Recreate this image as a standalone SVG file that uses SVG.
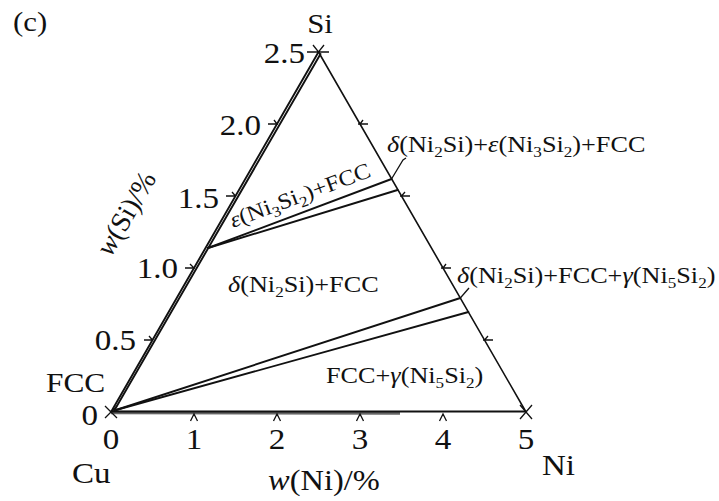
<svg xmlns="http://www.w3.org/2000/svg" width="719" height="501" viewBox="0 0 719 501">
<style>
text{font-family:"Liberation Serif","Times New Roman",serif;fill:#111}
.big{font-size:29px}
.ph{font-size:23px}
.g{font-style:italic}
.s{font-size:15px}
.ln{fill:none;stroke:#111;stroke-width:1.9;stroke-linecap:round}
.tk{fill:none;stroke:#111;stroke-width:1.3}
</style>
<rect width="719" height="501" fill="#fff"/>
<g id="connectors">
  <line x1="111" y1="412.5" x2="400" y2="413" stroke="#666" stroke-width="3.5"/>
  <line class="ln" x1="111" y1="411.5" x2="526" y2="411.5"/>
  <line class="ln" x1="111" y1="412" x2="318.5" y2="52"/>
  <line class="ln" x1="114" y1="411" x2="320.5" y2="54"/>
  <line class="ln" x1="318.5" y1="52" x2="526" y2="412" style="stroke-width:1.6"/>
  <line class="ln" x1="208" y1="248" x2="391.5" y2="179" stroke-width="2"/>
  <line class="ln" x1="208" y1="248" x2="397.5" y2="190" stroke-width="2"/>
  <line class="ln" x1="116" y1="410" x2="460.3" y2="298" stroke-width="2"/>
  <line class="ln" x1="116" y1="410" x2="468.4" y2="312" stroke-width="2"/>
  <polyline class="tk" points="391.5,179 403,160 406,158"/>
  <line class="tk" x1="460.3" y1="298" x2="469" y2="288"/>
</g>
<g id="ticks">
  <path class="tk" d="M307 52 H329 M313 45 L318.5 52 L324 45"/>
  <path class="tk" d="M105 406 L117 418 M117 406 L105 418"/>
  <path class="tk" d="M520 405 L532 419 M532 405 L520 419"/>
  <path class="tk" d="M268 124 H278 M274 120 L277 124 M226 196 H236 M232 192 L235.5 196 M185 268 H195 M190 264 L194 268 M144 340 H153 M149 336 L152.5 340"/>
  <path class="tk" d="M358 124 H368 M363 120 L360 124 M400 196 H410 M405 192 L401.5 196 M441 268 H451 M446 264 L443 268 M483 340 H493 M488 336 L484.5 340"/>
  <path class="tk" d="M190.5 421 L194 414 L197.5 421 M273.5 421 L277 414 L280.5 421 M356.5 421 L360 414 L363.5 421 M439.5 421 L443 414 L446.5 421"/>
</g>
<g id="labels">
  <text class="big" transform="translate(13,31) scale(1.1,1)" style="font-size:28px">(c)</text>
  <text class="big" text-anchor="middle" transform="translate(320,33) scale(1.14,1)" style="font-size:27px">Si</text>
  <text class="big" text-anchor="end" transform="translate(305,63) scale(1.14,1)">2.5</text>
  <text class="big" text-anchor="end" transform="translate(261,135) scale(1.14,1)">2.0</text>
  <text class="big" text-anchor="end" transform="translate(219,208) scale(1.14,1)">1.5</text>
  <text class="big" text-anchor="end" transform="translate(178,278) scale(1.14,1)">1.0</text>
  <text class="big" text-anchor="end" transform="translate(136,350) scale(1.14,1)">0.5</text>
  <text class="big" text-anchor="end" transform="translate(98,425) scale(1.14,1)">0</text>
  <text class="big" transform="translate(46,392) scale(1.12,1)" style="font-size:28px">FCC</text>
  <text class="big" text-anchor="middle" transform="translate(111,449) scale(1.14,1)">0</text>
  <text class="big" text-anchor="middle" transform="translate(194,449) scale(1.14,1)">1</text>
  <text class="big" text-anchor="middle" transform="translate(277,449) scale(1.14,1)">2</text>
  <text class="big" text-anchor="middle" transform="translate(360,449) scale(1.14,1)">3</text>
  <text class="big" text-anchor="middle" transform="translate(443,449) scale(1.14,1)">4</text>
  <text class="big" text-anchor="middle" transform="translate(526,449) scale(1.14,1)">5</text>
  <text class="big" transform="translate(72,483) scale(1.14,1)">Cu</text>
  <text class="big" transform="translate(542,475) scale(1.14,1)">Ni</text>
  <text class="big" transform="translate(268,490) scale(1.12,1)"><tspan class="g">w</tspan>(Ni)/%</text>
  <text class="big" text-anchor="middle" transform="translate(134,218) rotate(-60)" style="font-size:28px"><tspan class="g">w</tspan>(Si)/%</text>
  <text class="ph" transform="translate(387,152) scale(1.14,1)"><tspan class="g">δ</tspan>(Ni<tspan class="s" dy="5">2</tspan><tspan dy="-5">Si)+</tspan><tspan class="g">ε</tspan>(Ni<tspan class="s" dy="5">3</tspan><tspan dy="-5">Si</tspan><tspan class="s" dy="5">2</tspan><tspan dy="-5">)+FCC</tspan></text>
  <text class="ph" transform="translate(233,228) rotate(-20.4) scale(1.12,1)" style="font-size:22px"><tspan class="g">ε</tspan>(Ni<tspan class="s" dy="5">3</tspan><tspan dy="-5">Si</tspan><tspan class="s" dy="5">2</tspan><tspan dy="-5">)+FCC</tspan></text>
  <text class="ph" transform="translate(228,292) scale(1.14,1)"><tspan class="g">δ</tspan>(Ni<tspan class="s" dy="5">2</tspan><tspan dy="-5">Si)+FCC</tspan></text>
  <text class="ph" transform="translate(457,283) scale(1.14,1)"><tspan class="g">δ</tspan>(Ni<tspan class="s" dy="5">2</tspan><tspan dy="-5">Si)+FCC+</tspan><tspan class="g">γ</tspan>(Ni<tspan class="s" dy="5">5</tspan><tspan dy="-5">Si</tspan><tspan class="s" dy="5">2</tspan><tspan dy="-5">)</tspan></text>
  <text class="ph" transform="translate(326,383) scale(1.14,1)">FCC+<tspan class="g">γ</tspan>(Ni<tspan class="s" dy="5">5</tspan><tspan dy="-5">Si</tspan><tspan class="s" dy="5">2</tspan><tspan dy="-5">)</tspan></text>
</g>
</svg>
